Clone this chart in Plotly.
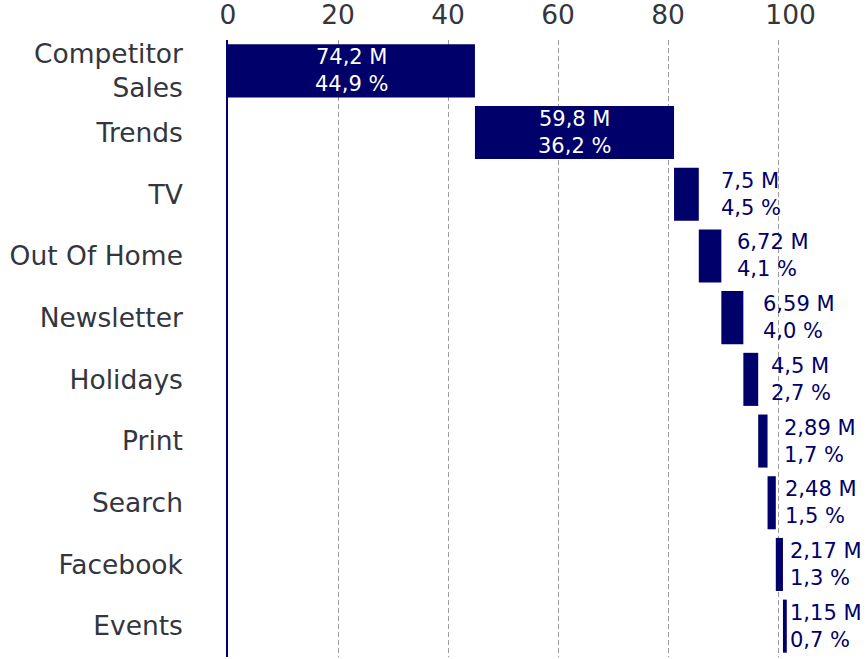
import plotly.graph_objects as go

# ---- data ----
categories = ["Competitor<br>Sales", "Trends", "TV", "Out Of Home", "Newsletter",
              "Holidays", "Print", "Search", "Facebook", "Events"]
values_m = [74.2, 59.8, 7.5, 6.72, 6.59, 4.5, 2.89, 2.48, 2.17, 1.15]
share_pct = [44.9, 36.2, 4.5, 4.1, 4.0, 2.7, 1.7, 1.5, 1.3, 0.7]
x_tickvals = [0, 20, 40, 60, 80, 100]
x_ticktext = ["0", "20", "40", "60", "80", "\u00a0\u00a0\u00a0100"]

# ---- styles ----
NAVY = "#00006a"
TEXT = "#33363d"
FONT = "DejaVu Sans"

bases = []
run = 0.0
for s in share_pct:
    bases.append(run)
    run += s

def fmt_m(v):
    return f"{v:.3g}".replace(".", ",") + " M"

def fmt_p(p):
    return f"{p:.1f}".replace(".", ",") + " %"

fig = go.Figure()
fig.add_trace(go.Bar(
    y=categories, x=share_pct, base=bases, orientation="h",
    marker=dict(color=NAVY, line=dict(width=0)), width=0.86,
    hoverinfo="skip", showlegend=False,
))

outside_shift = [20, 14, 18, 11, 14, 7, 5, 1]
annotations = []
k = 0
for cat, v, p, b in zip(categories, values_m, share_pct, bases):
    label = fmt_m(v) + "<br>" + fmt_p(p)
    if p > 10:
        annotations.append(dict(x=b + p / 2, y=cat, text=label, showarrow=False,
                                xanchor="center", yanchor="middle", align="center",
                                font=dict(family=FONT, size=21, color="white")))
    else:
        annotations.append(dict(x=b + p, y=cat, text=label, showarrow=False,
                                xanchor="left", yanchor="middle", align="left",
                                xshift=outside_shift[k],
                                font=dict(family=FONT, size=21, color=NAVY)))
        k += 1

fig.update_layout(
    width=866, height=659,
    margin=dict(l=228, r=0, t=40, b=2, pad=0),
    paper_bgcolor="white", plot_bgcolor="white",
    annotations=annotations,
    xaxis=dict(
        side="top", range=[0, 116], tickmode="array",
        tickvals=x_tickvals, ticktext=x_ticktext,
        showgrid=True, gridcolor="#9a9a9a", gridwidth=1, griddash="5px,3px",
        zeroline=False, showline=False,
        ticks="outside", ticklen=4, tickcolor="rgba(0,0,0,0)",
        tickfont=dict(family=FONT, size=26.5, color=TEXT),
    ),
    yaxis=dict(
        autorange="reversed", showgrid=False, zeroline=False,
        showline=True, linecolor=NAVY, linewidth=1.5,
        ticks="outside", ticklen=38, tickcolor="rgba(0,0,0,0)",
        tickfont=dict(family=FONT, size=26.5, color=TEXT),
    ),
)

fig.write_html("out.html")
